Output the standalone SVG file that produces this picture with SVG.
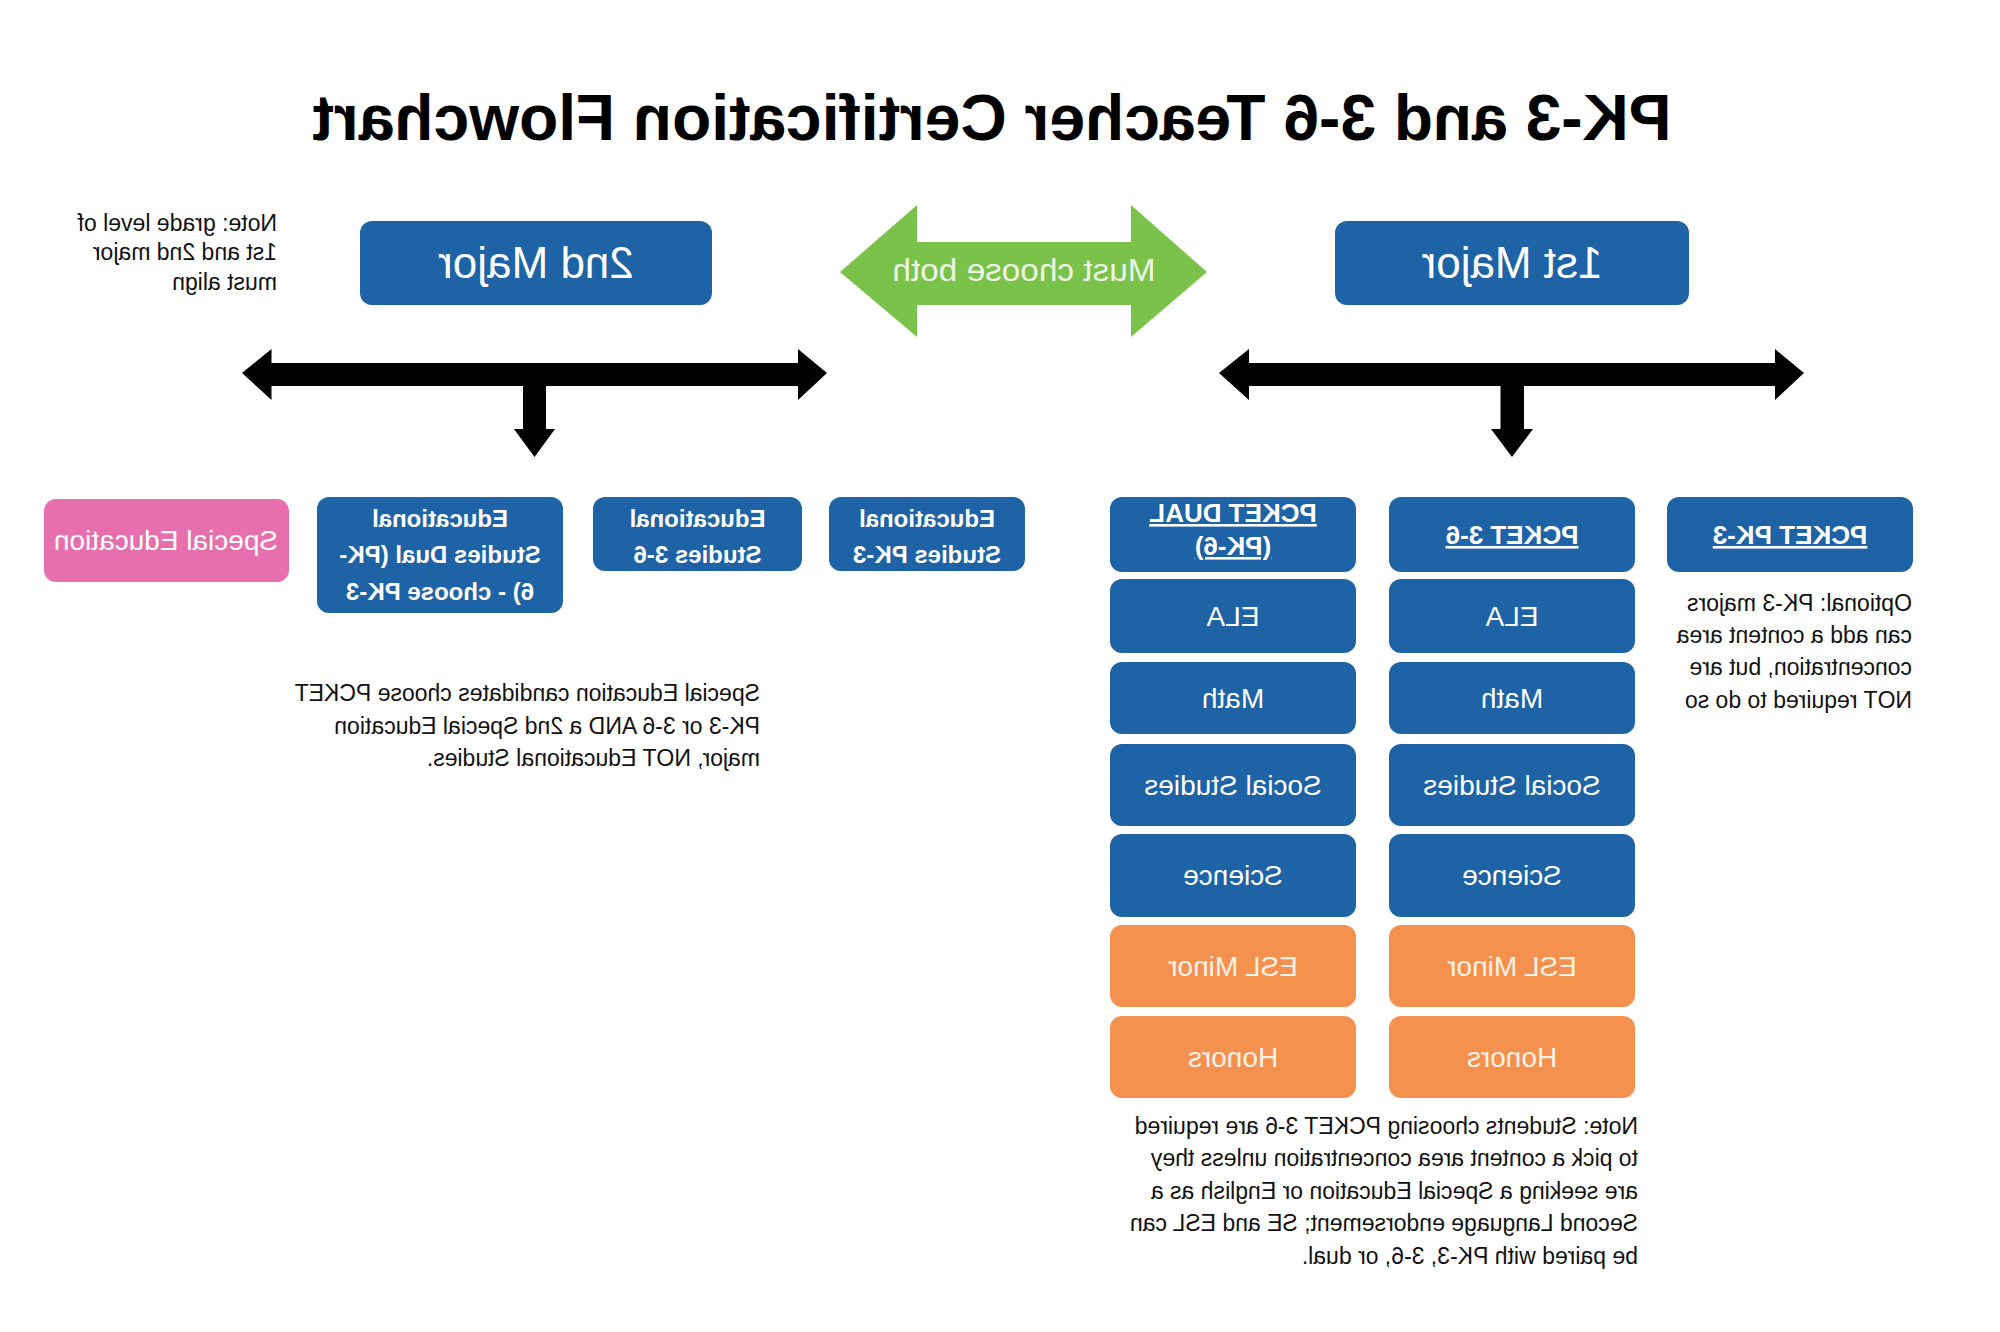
<svg xmlns="http://www.w3.org/2000/svg" width="2000" height="1332" viewBox="0 0 2000 1332">
<style>
  text { font-family: "Liberation Sans", Arial, Helvetica, sans-serif; }
  .title { font-size: 64px; font-weight: bold; fill: #000; }
  .blue { fill: #1d63a6; }
  .orange { fill: #f5914f; }
  .pink { fill: #e86fad; }
  .major { font-size: 44px; fill: #ffffff; text-anchor: middle; }
  .sub { font-size: 28px; fill: #ffffff; text-anchor: middle; }
  .subo { font-size: 28px; fill: #fff3e8; text-anchor: middle; }
  .head { font-size: 26px; font-weight: bold; fill: #ffffff; text-anchor: middle; text-decoration: underline; }
  .ed { font-size: 24px; font-weight: bold; fill: #ffffff; text-anchor: middle; }
  .note { font-size: 23px; fill: #111; }
  .note2 { font-size: 23px; fill: #111; }
  .arrow { fill: #000; }
  .green { fill: #7bc24b; }
  .gtext { font-size: 31px; fill: #eef6e6; text-anchor: middle; }
</style>
<rect x="0" y="0" width="2000" height="1332" fill="#ffffff"/>
<g transform="translate(2000,0) scale(-1,1)">
  <text class="title" x="1008" y="140" text-anchor="middle" textLength="1359" lengthAdjust="spacingAndGlyphs">PK-3 and 3-6 Teacher Certification Flowchart</text>

  <g id="connectors">
    <polygon class="arrow" points="1173,373 1202,349 1202,363 1728.5,363 1728.5,349 1758,373 1728.5,400 1728.5,386 1477,386 1477,429 1486,429 1465.5,457 1445,429 1454,429 1454,386 1202,386 1202,400"/>
    <polygon class="arrow" points="196,373 225,349 225,363 751,363 751,349 781,373 751,400 751,386 499.5,386 499.5,429 509,429 488,457 467,429 476,429 476,386 225,386 225,400"/>
    <g id="must-choose-both">
      <polygon class="green" points="793,272 869,205 869,242 1083,242 1083,205 1160,272 1083,337 1083,305 869,305 869,337"/>
      <text class="gtext" x="976" y="281" textLength="263" lengthAdjust="spacingAndGlyphs">Must choose both</text>
    </g>
  </g>

  <g id="major1">
    <rect class="blue" x="311" y="221" width="354" height="84" rx="12"/>
    <text class="major" x="488" y="278">1st Major</text>
  </g>
  <g id="major2">
    <rect class="blue" x="1288" y="221" width="352" height="84" rx="12"/>
    <text class="major" x="1464" y="278">2nd Major</text>
  </g>

  <g id="note-grade">
    <text class="note2" x="1723" y="231">Note: grade level of</text>
    <text class="note2" x="1723" y="260">1st and 2nd major</text>
    <text class="note2" x="1723" y="290">must align</text>
  </g>

  <g id="ed-pk3">
    <rect class="blue" x="975" y="497" width="196" height="74" rx="12"/>
    <text class="ed" x="1073" y="527">Educational</text>
    <text class="ed" x="1073" y="563">Studies PK-3</text>
  </g>
  <g id="ed-36">
    <rect class="blue" x="1198" y="497" width="209" height="74" rx="12"/>
    <text class="ed" x="1302.5" y="527">Educational</text>
    <text class="ed" x="1302.5" y="563">Studies 3-6</text>
  </g>
  <g id="ed-dual">
    <rect class="blue" x="1437" y="497" width="246" height="116" rx="12"/>
    <text class="ed" x="1560" y="527">Educational</text>
    <text class="ed" x="1560" y="563">Studies Dual (PK-</text>
    <text class="ed" x="1560" y="600">6) - choose PK-3</text>
  </g>
  <g id="special-ed">
    <rect class="pink" x="1711" y="499" width="245" height="83" rx="12"/>
    <text class="sub" x="1834" y="550">Special Education</text>
  </g>

  <g id="note-special">
    <text class="note" x="1240" y="701">Special Education candidates choose PCKET</text>
    <text class="note" x="1240" y="734">PK-3 or 3-6 AND a 2nd Special Education</text>
    <text class="note" x="1240" y="766">major, NOT Educational Studies.</text>
  </g>

  <g id="pcket-pk3">
    <rect class="blue" x="87" y="497" width="246" height="75" rx="12"/>
    <text class="head" x="210" y="544">PCKET PK-3</text>
  </g>
  <g id="note-optional">
    <text class="note" x="88" y="611">Optional: PK-3 majors</text>
    <text class="note" x="88" y="643">can add a content area</text>
    <text class="note" x="88" y="675">concentration, but are</text>
    <text class="note" x="88" y="708">NOT required to do so</text>
  </g>

  <g id="pcket-36">
    <rect class="blue" x="365" y="497" width="246" height="75" rx="12"/>
    <text class="head" x="488" y="544">PCKET 3-6</text>
  </g>
  <g id="pcket-36-ela">
    <rect class="blue" x="365" y="579" width="246" height="74" rx="12"/>
    <text class="sub" x="488" y="626">ELA</text>
  </g>
  <g id="pcket-36-math">
    <rect class="blue" x="365" y="662" width="246" height="72" rx="12"/>
    <text class="sub" x="488" y="708">Math</text>
  </g>
  <g id="pcket-36-social">
    <rect class="blue" x="365" y="744" width="246" height="82" rx="12"/>
    <text class="sub" x="488" y="795">Social Studies</text>
  </g>
  <g id="pcket-36-science">
    <rect class="blue" x="365" y="834" width="246" height="83" rx="12"/>
    <text class="sub" x="488" y="885">Science</text>
  </g>
  <g id="pcket-36-esl">
    <rect class="orange" x="365" y="925" width="246" height="82" rx="12"/>
    <text class="subo" x="488" y="976">ESL Minor</text>
  </g>
  <g id="pcket-36-honors">
    <rect class="orange" x="365" y="1016" width="246" height="82" rx="12"/>
    <text class="subo" x="488" y="1067">Honors</text>
  </g>

  <g id="pcket-dual">
    <rect class="blue" x="644" y="497" width="246" height="75" rx="12"/>
    <text class="head" x="767" y="522">PCKET DUAL</text>
    <text class="head" x="767" y="555">(PK-6)</text>
  </g>
  <g id="pcket-dual-ela">
    <rect class="blue" x="644" y="579" width="246" height="74" rx="12"/>
    <text class="sub" x="767" y="626">ELA</text>
  </g>
  <g id="pcket-dual-math">
    <rect class="blue" x="644" y="662" width="246" height="72" rx="12"/>
    <text class="sub" x="767" y="708">Math</text>
  </g>
  <g id="pcket-dual-social">
    <rect class="blue" x="644" y="744" width="246" height="82" rx="12"/>
    <text class="sub" x="767" y="795">Social Studies</text>
  </g>
  <g id="pcket-dual-science">
    <rect class="blue" x="644" y="834" width="246" height="83" rx="12"/>
    <text class="sub" x="767" y="885">Science</text>
  </g>
  <g id="pcket-dual-esl">
    <rect class="orange" x="644" y="925" width="246" height="82" rx="12"/>
    <text class="subo" x="767" y="976">ESL Minor</text>
  </g>
  <g id="pcket-dual-honors">
    <rect class="orange" x="644" y="1016" width="246" height="82" rx="12"/>
    <text class="subo" x="767" y="1067">Honors</text>
  </g>

  <g id="note-bottom">
    <text class="note" x="362" y="1134">Note: Students choosing PCKET 3-6 are required</text>
    <text class="note" x="362" y="1166">to pick a content area concentration unless they</text>
    <text class="note" x="362" y="1199">are seeking a Special Education or English as a</text>
    <text class="note" x="362" y="1231">Second Language endorsement; SE and ESL can</text>
    <text class="note" x="362" y="1264">be paired with PK-3, 3-6, or dual.</text>
  </g>
</g>
</svg>
